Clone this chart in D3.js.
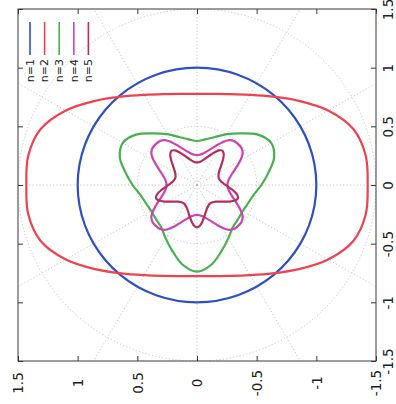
<!DOCTYPE html>
<meta charset="utf-8">
<style>

body {
  margin: 0;
  background-color: #fff;
}

svg {
  display: block;
  font-family: "DejaVu Sans", sans-serif;
}

</style>
<body>

<div id="chart1"></div>

<script src="https://d3js.org/d3.v7.min.js"></script>
<script>

// radius at equally spaced angles, 0 .. 360 deg
var rN1 = [1, 1, 1, 1, 1, 1, 1, 1, 1, 1, 1, 1, 1, 1, 1, 1, 1, 1];

var rN2 = [0.776, 0.788, 0.824, 0.887, 0.983, 1.115, 1.269, 1.394, 1.436, 1.430, 1.436, 1.394, 1.269, 1.115, 0.983, 0.887, 0.824, 0.788,
           0.776, 0.788, 0.824, 0.887, 0.983, 1.115, 1.269, 1.394, 1.436, 1.430, 1.436, 1.394, 1.269, 1.115, 0.983, 0.887, 0.824, 0.788];

var rN3 = [0.375, 0.395, 0.435, 0.500, 0.575, 0.668, 0.718, 0.688, 0.608, 0.540, 0.482, 0.455, 0.443, 0.450, 0.468, 0.525, 0.600, 0.690,
           0.739, 0.690, 0.600, 0.525, 0.468, 0.450, 0.443, 0.455, 0.482, 0.540, 0.608, 0.688, 0.718, 0.668, 0.575, 0.500, 0.435, 0.395];

var rN4 = [0.255, 0.259, 0.271, 0.292, 0.323, 0.366, 0.419, 0.467, 0.488, 0.490, 0.488, 0.467, 0.419, 0.366, 0.323, 0.292, 0.271, 0.259,
           0.255, 0.259, 0.271, 0.292, 0.323, 0.366, 0.419, 0.467, 0.488, 0.490, 0.488, 0.467, 0.419, 0.366, 0.323, 0.292, 0.271, 0.259,
           0.255, 0.259, 0.271, 0.292, 0.323, 0.366, 0.419, 0.467, 0.488, 0.490, 0.488, 0.467, 0.419, 0.366, 0.323, 0.292, 0.271, 0.259,
           0.255, 0.259, 0.271, 0.292, 0.323, 0.366, 0.419, 0.467, 0.488, 0.490, 0.488, 0.467, 0.419, 0.366, 0.323, 0.292, 0.271, 0.259];

var rN5 = [0.192, 0.194, 0.201, 0.212, 0.229, 0.252, 0.282, 0.317, 0.348, 0.361, 0.348, 0.317, 0.282, 0.252, 0.229, 0.212, 0.201, 0.194,
           0.192, 0.194, 0.201, 0.212, 0.229, 0.252, 0.282, 0.317, 0.348, 0.361, 0.348, 0.317, 0.282, 0.252, 0.229, 0.212, 0.201, 0.194,
           0.192, 0.194, 0.201, 0.212, 0.229, 0.252, 0.282, 0.317, 0.348, 0.361, 0.348, 0.317, 0.282, 0.252, 0.229, 0.212, 0.201, 0.194,
           0.192, 0.194, 0.201, 0.212, 0.229, 0.252, 0.282, 0.317, 0.348, 0.361, 0.348, 0.317, 0.282, 0.252, 0.229, 0.212, 0.201, 0.194,
           0.192, 0.194, 0.201, 0.212, 0.229, 0.252, 0.282, 0.317, 0.348, 0.361, 0.348, 0.317, 0.282, 0.252, 0.229, 0.212, 0.201, 0.194];

var series = [rN1, rN2, rN3, rN4, rN5];
var names = ["n=1", "n=2", "n=3", "n=4", "n=5"];
var colors = ["#2f4fc4", "#f2404f", "#48b04c", "#cc44b4", "#b42f5a"];

var ticks = [1.5, 1, 0.5, 0, -0.5, -1, -1.5];
var gridR = [0.5, 1, 1.5];
var gridA = [0, 30, 60, 90, 120, 150, 180, 210, 240, 270, 300, 330];

drawChart();


function drawChart(){
	var width = 396, height = 404;
	var box = {left: 18, right: 376, top: 9, bottom: 361};

	var svg = d3.select("#chart1").append("svg")
		.attr("width", width)
		.attr("height", height);

	// the whole plot is turned a quarter: horizontal axis carries y (1.5 at left),
	// vertical axis carries x (1.5 at top)
	var x = d3.scaleLinear().domain([1.5, -1.5]).range([box.left, box.right]);
	var y = d3.scaleLinear().domain([1.5, -1.5]).range([box.top, box.bottom]);

	svg.append("clipPath").attr("id", "clip")
		.append("rect")
		.attr("x", box.left).attr("y", box.top)
		.attr("width", box.right - box.left)
		.attr("height", box.bottom - box.top);

	// polar grid
	var grid = svg.append("g").attr("clip-path", "url(#clip)")
		.style("fill", "none")
		.style("stroke", "#b8b8b8")
		.style("stroke-width", 0.8)
		.style("stroke-dasharray", "1.2,2.2");

	grid.selectAll("line").data(gridA).enter().append("line")
		.attr("x1", x(0)).attr("y1", y(0))
		.attr("x2", function(a){ return x(2.2 * Math.sin(a * Math.PI / 180)); })
		.attr("y2", function(a){ return y(2.2 * Math.cos(a * Math.PI / 180)); });

	grid.selectAll("ellipse").data(gridR).enter().append("ellipse")
		.attr("cx", x(0)).attr("cy", y(0))
		.attr("rx", function(r){ return x(0) - x(r); })
		.attr("ry", function(r){ return y(0) - y(r); });

	// curves
	var line = d3.line()
		.x(function(d){ return x(d[1]); })
		.y(function(d){ return y(d[0]); })
		.curve(d3.curveCatmullRomClosed);

	series.forEach(function(rs, k){
		var pts = rs.map(function(r, i){
			var t = i / rs.length * 2 * Math.PI;
			return [r * Math.cos(t), r * Math.sin(t)];
		});
		svg.append("path")
			.attr("d", line(pts))
			.style("fill", "none")
			.style("stroke", colors[k])
			.style("stroke-width", 2.2);
	});

	// border
	svg.append("rect")
		.attr("x", box.left).attr("y", box.top)
		.attr("width", box.right - box.left)
		.attr("height", box.bottom - box.top)
		.style("fill", "none")
		.style("stroke", "#3a3a3a")
		.style("stroke-width", 1);

	var fmt = function(d){ return String(d); };

	var axB = svg.append("g").attr("transform", "translate(0," + box.bottom + ")")
		.call(d3.axisBottom(x).tickValues(ticks).tickFormat(fmt).tickSizeInner(-5).tickSizeOuter(0));
	var axT = svg.append("g").attr("transform", "translate(0," + box.top + ")")
		.call(d3.axisTop(x).tickValues(ticks).tickFormat("").tickSizeInner(-5).tickSizeOuter(0));
	var axR = svg.append("g").attr("transform", "translate(" + box.right + ",0)")
		.call(d3.axisRight(y).tickValues(ticks).tickFormat(fmt).tickSizeInner(-5).tickSizeOuter(0));
	var axL = svg.append("g").attr("transform", "translate(" + box.left + ",0)")
		.call(d3.axisLeft(y).tickValues(ticks).tickFormat("").tickSizeInner(-5).tickSizeOuter(0));

	[axB, axT, axR, axL].forEach(function(g){
		g.select(".domain").remove();
		g.selectAll(".tick line").style("stroke", "#3a3a3a");
	});

	axB.selectAll("text")
		.attr("x", 0).attr("y", 0).attr("dy", "0.35em")
		.attr("transform", "translate(0,22) rotate(-90)")
		.attr("text-anchor", "middle");
	axR.selectAll("text")
		.attr("x", 0).attr("y", 0).attr("dy", "0.35em")
		.attr("transform", "translate(12.5,0) rotate(-90)")
		.attr("text-anchor", "middle");

	[axB, axR].forEach(function(g){
		g.attr("font-family", null).attr("font-size", null);
		g.selectAll("text")
			.style("font-family", "'DejaVu Sans', sans-serif")
			.style("font-size", "13.5px")
			.style("fill", "#222");
	});

	// key, turned with the plot
	var key = svg.append("g");
	names.forEach(function(name, i){
		var kx = 30 + 14.6 * i;
		key.append("line")
			.attr("x1", kx).attr("x2", kx)
			.attr("y1", 22).attr("y2", 55)
			.style("stroke", colors[i])
			.style("stroke-width", 1.6);
		key.append("text")
			.attr("transform", "translate(" + kx + ",59) rotate(-90)")
			.attr("dy", "0.35em")
			.attr("text-anchor", "end")
			.style("font-size", "11px")
			.style("fill", "#222")
			.text(name);
	});
}

</script>
